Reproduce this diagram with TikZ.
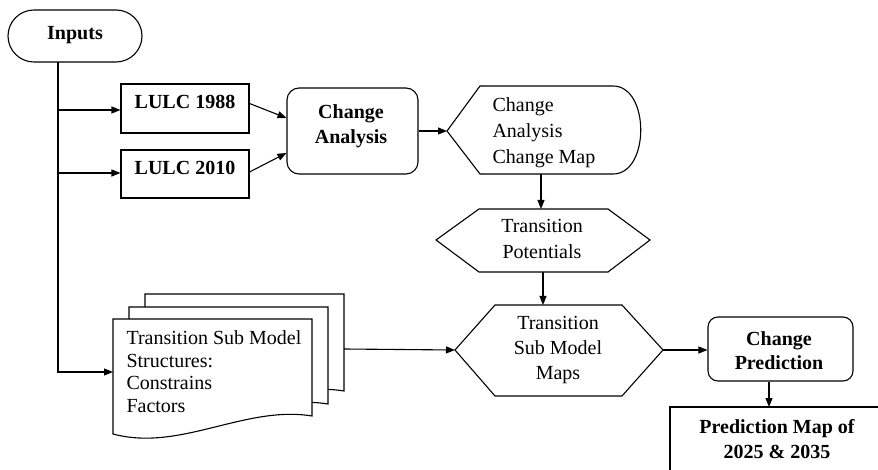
\documentclass[tikz,border=0pt]{standalone}
\usepackage{fontspec}
\setmainfont{Liberation Serif}
\usetikzlibrary{arrows.meta,calc}
\begin{document}
\begin{tikzpicture}[x=1pt,y=-1pt, line width=1.1pt,
  txt/.style={font=\fontsize{20}{25}\selectfont, inner sep=0pt, align=center},
  btxt/.style={txt, font=\fontsize{20}{25}\selectfont\bfseries},
  boxs/.style={draw, inner sep=0pt},
  arr/.style={-{Triangle[length=9pt,width=7pt]}},
  docs/.style={draw, fill=white, line join=miter}
]
\useasboundingbox (0,0) rectangle (878,470);
\clip (0,0) rectangle (878,470);

% Inputs
\node[boxs, rounded corners=26pt, minimum width=134pt, minimum height=52pt] (inputs) at (75,36) {};
\node[btxt] (inputsT) at (75,35) {Inputs};
\coordinate (t0) at (58,62);

% LULC boxes
\node[boxs, minimum width=128pt, minimum height=49pt] (l88) at (185,108.5) {};
\node[btxt] (l88T) at (185,102) {LULC 1988};
\node[boxs, minimum width=128pt, minimum height=48pt] (l10) at (185,174) {};
\node[btxt] (l10T) at (185,168) {LULC 2010};

% Change analysis
\node[boxs, rounded corners=12pt, minimum width=131pt, minimum height=86pt] (ca) at (352.5,131) {};
\node[btxt] (caT) at (351,126.5) {Change\\Analysis};

% Display shape
\draw (447,131) -- (480,86) -- (613,86) .. controls (650,86) and (650,174) .. (613,174) -- (480,174) -- cycle;
\coordinate (dispW) at (447,131);
\coordinate (dispS) at (541,174);
\node[txt, align=left, anchor=north west, font=\fontsize{20}{26}\selectfont] (dispT) at (492,97) {Change\\Analysis\\Change Map};

% Transition potentials hexagon
\draw (436,240) -- (479,209) -- (608,209) -- (650,240) -- (608,272) -- (479,272) -- cycle;
\coordinate (tpN) at (541,209);
\coordinate (tpS) at (543,272);
\node[txt, font=\fontsize{20}{26}\selectfont] (tpT) at (542,239) {Transition\\Potentials};

% Transition sub model maps hexagon
\draw (455,350) -- (495,305) -- (622,305) -- (663,350) -- (622,396) -- (495,396) -- cycle;
\coordinate (tsmN) at (543,305);
\coordinate (tsmW) at (455,350);
\coordinate (tsmE) at (663,350);
\node[txt] (tsmT) at (558,350) {Transition\\Sub Model\\Maps};

% Change prediction
\node[boxs, rounded corners=10pt, minimum width=145pt, minimum height=64pt] (cp) at (780.5,349) {};
\node[btxt, font=\fontsize{20}{24}\selectfont\bfseries] (cpT) at (779,351) {Change\\Prediction};

% Prediction map
\draw (670,490) -- (670,407) -- (890,407);
\coordinate (pmN) at (769,407);
\node[btxt] (pmT) at (777,439) {Prediction Map of\\2025 \& 2035};

% Document stack
\newcommand\mydocpath{(113,319) -- (312,319) -- (312,416) .. controls (245,405) and (180,452) .. (113,434) -- cycle}
\draw[docs, shift={(32,-25)}] \mydocpath;
\draw[docs, shift={(16,-12)}] \mydocpath;
\draw[docs] \mydocpath;
\coordinate (docW) at (113,372);
\coordinate (docE) at (344,349);
\node[txt, align=left, anchor=north west, font=\fontsize{20}{22.7}\selectfont] (docT) at (126,330) {Transition Sub Model\\Structures:\\Constrains\\Factors};

% Connectors
\draw[arr] (t0) |- (l88.west |- 0,110);
\draw[arr] (t0) |- (l10.west |- 0,173);
\draw[arr] (t0) |- (docW);
\draw[arr] ($(l88.east)+(0,-5)$) -- ($(ca.west)+(0,-13)$);
\draw[arr] ($(l10.east)+(0,-2)$) -- ($(ca.west)+(0,22)$);
\draw[arr] (ca.east) -- (dispW);
\draw[arr] (dispS) -- (tpN);
\draw[arr] (tpS) -- (tsmN);
\draw[arr] (docE) -- (tsmW);
\draw[arr] (tsmE) -- (cp.west |- tsmE);
\draw[arr] ($(cp.south)+(-11.5,0)$) -- (pmN);
\end{tikzpicture}
\end{document}
